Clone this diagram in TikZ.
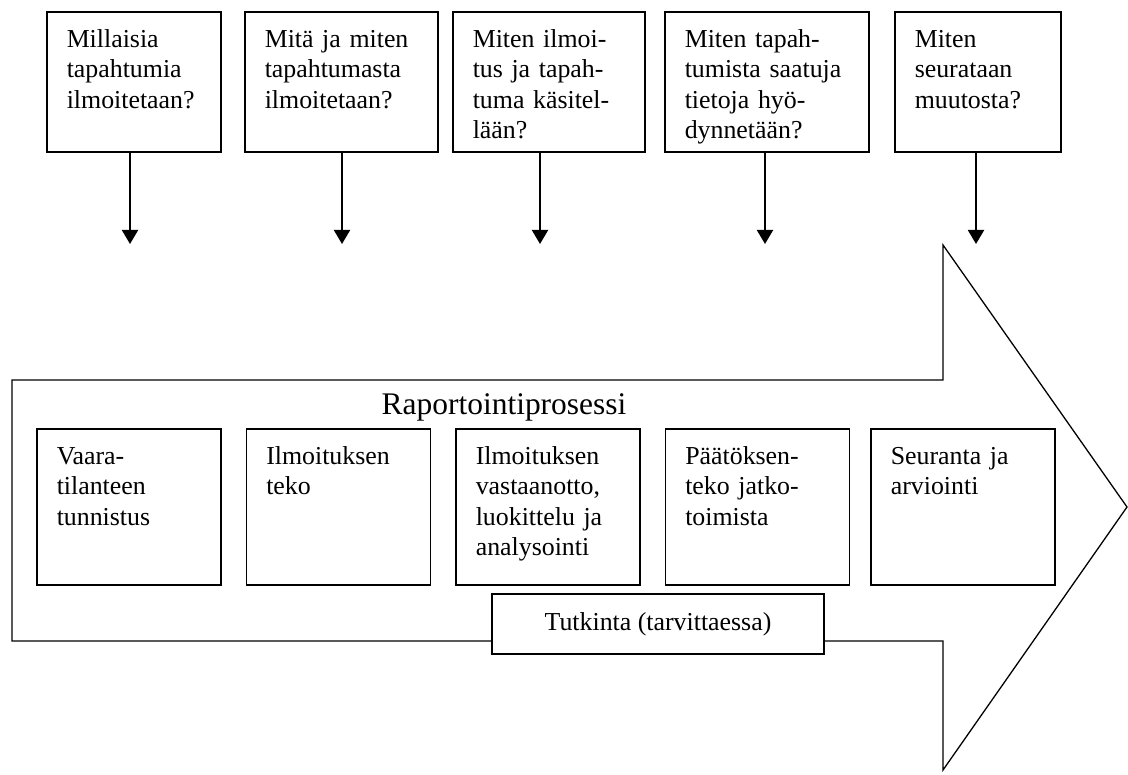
\documentclass[tikz,border=0pt]{standalone}
\usepackage{fontspec}
\setmainfont{Liberation Serif}
\usetikzlibrary{arrows.meta,positioning}
\hyphenpenalty=10000
\exhyphenpenalty=10000
\newdimen\px \px=0.464pt
\tikzset{
  question/.style={draw=black, line width=0.7pt, anchor=north west, align=left, inner xsep=20\px, inner ysep=0pt, text height=36\px, text depth=104\px, font=\fontsize{12}{14}\selectfont},
  phase/.style={question, text width=144\px, text depth=120\px},
  study/.style={draw=black, line width=0.7pt, fill=white, minimum width=332\px, minimum height=60\px, inner sep=0pt, font=\fontsize{12}{14}\selectfont},
  flow/.style={-{Triangle[length=6.5pt, width=7.4pt]}, line width=1pt, draw=black},
  bigarrow/.style={draw=black, line width=0.6pt, line join=miter}
}

\begin{document}
\begin{tikzpicture}[x=0.464pt, y=-0.464pt]
  \useasboundingbox (0,0) rectangle (1128,774);

  % process arrow
  \draw[bigarrow] (12,380) -- (943,380) -- (943,245) -- (1127,507) -- (943,770) -- (943,641) -- (12,641) -- cycle;
  \node[anchor=base, font=\fontsize{14.6}{16}\selectfont] (title) at (504,414) {Raportointiprosessi};

  % questions
  \node[question, text width=134\px] (q1) at (46,11) {Millaisia\\tapahtumia\\ilmoitetaan?};
  \node[question, text width=153\px] (q2) at (244,11) {Mitä ja miten\\tapahtumasta\\ilmoitetaan?};
  \node[question, text width=152\px] (q3) at (452,11) {Miten ilmoi-\\tus ja tapah-\\tuma käsitel-\\lään?};
  \node[question, text width=164\px] (q4) at (664,11) {Miten tapah-\\tumista saatuja\\tietoja hyö-\\dynnetään?};
  \node[question, text width=126\px] (q5) at (894,11) {Miten\\seurataan\\muutosta?};

  \coordinate (t1) at (130,244);
  \coordinate (t2) at (342,244);
  \coordinate (t3) at (540,244);
  \coordinate (t4) at (765,244);
  \coordinate (t5) at (976,244);
  \draw[flow] (q1.south -| t1) -- (t1);
  \draw[flow] (q2.south -| t2) -- (t2);
  \draw[flow] (q3.south -| t3) -- (t3);
  \draw[flow] (q4.south -| t4) -- (t4);
  \draw[flow] (q5.south -| t5) -- (t5);

  % phases
  \node[phase] (p1) at (36,428) {Vaara-\\tilanteen\\tunnistus};
  \node[phase, right=24\px of p1] (p2) {Ilmoituksen\\teko};
  \node[phase, right=24\px of p2] (p3) {Ilmoituksen\\vastaanotto,\\luokittelu ja\\analysointi};
  \node[phase, right=24\px of p3] (p4) {Päätöksen-\\teko jatko-\\toimista};
  \node[phase, right=20\px of p4] (p5) {Seuranta ja\\arviointi};

  \node[study] (tutk) at (658,624) {Tutkinta (tarvittaessa)};
\end{tikzpicture}
\end{document}
